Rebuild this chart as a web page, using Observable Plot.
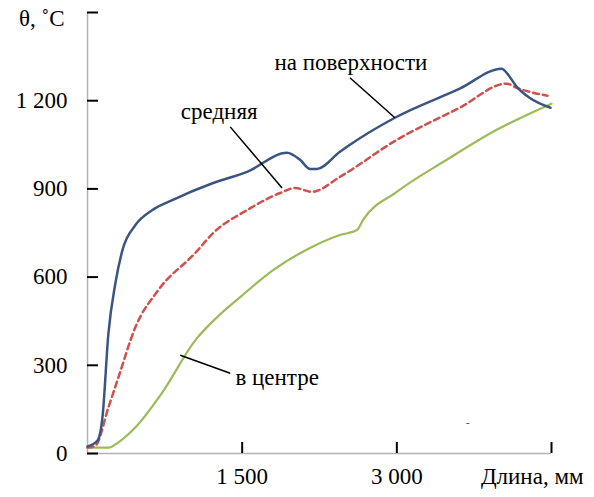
<!DOCTYPE html>
<html>
<head>
<meta charset="utf-8">
<script src="https://cdn.jsdelivr.net/npm/d3@7"></script>
<script src="https://cdn.jsdelivr.net/npm/@observablehq/plot@0.6"></script>
<style>
  html, body { margin: 0; padding: 0; background: #fff; }
  #chart svg { display: block; }
</style>
</head>
<body>
<div id="chart"></div>
<script>
// --- data (length, mm ; temperature, °C) ---
const surfaceX = [0, 97, 145, 203, 271, 339, 465, 629, 823, 1219, 1548, 1935, 2061, 2158, 2226, 2448, 2545, 2981, 3610, 4016, 4065, 4161, 4287, 4490];
const surfaceY = [24, 44, 123, 409, 580, 692, 777, 828, 862, 920, 958, 1023, 999, 968, 968, 1026, 1050, 1142, 1241, 1309, 1295, 1248, 1210, 1176];

const meanX = [0, 77, 203, 300, 465, 687, 1045, 1219, 1548, 1868, 2013, 2177, 2448, 3000, 3610, 4065, 4161, 4461];
const meanY = [20, 27, 157, 259, 430, 556, 682, 750, 828, 886, 903, 890, 941, 1067, 1176, 1258, 1244, 1217];

const centerX = [0, 203, 300, 465, 726, 1045, 1258, 1481, 1800, 2158, 2448, 2613, 2671, 3000, 3484, 3968, 4500];
const centerY = [20, 20, 38, 89, 208, 385, 464, 532, 624, 699, 743, 760, 794, 890, 999, 1101, 1190];

const yTicks = [0, 300, 600, 900, 1200, 1500];
const yTickLabels = ["0", "300", "600", "900", "1 200", ""];
const yTitle = "θ, ˚C";
const xTicks = [1500, 3000, 4500];
const xTickLabels = ["1 500", "3 000", ""];
const xTitle = "Длина, мм";

const annoText = ["на поверхности", "средняя", "в центре"];
const annoX = [2555, 1277, 1839];
const annoY = [1330, 1163, 259];
const leadX1 = [2545, 1384, 900];
const leadY1 = [1278, 1111, 334];
const leadX2 = [2981, 1887, 1384];
const leadY2 = [1142, 903, 273];

// small stray dash seen in the original figure
const strayText = ["-"];
const strayX = [3687];
const strayY = [102];

// --- build tables ---
const surface = surfaceX.map((x, i) => ({x, y: surfaceY[i]}));
const mean = meanX.map((x, i) => ({x, y: meanY[i]}));
const center = centerX.map((x, i) => ({x, y: centerY[i]}));
const yT = yTicks.map((v, i) => ({v, t: yTickLabels[i]}));
const xT = xTicks.map((v, i) => ({v, t: xTickLabels[i]}));
const anno = annoText.map((t, i) => ({t, x: annoX[i], y: annoY[i], x1: leadX1[i], y1: leadY1[i], x2: leadX2[i], y2: leadY2[i]}));
const stray = strayText.map((t, i) => ({t, x: strayX[i], y: strayY[i]}));

const font = "Liberation Serif, Times New Roman, serif";
const fs = 23;

const chart = Plot.plot({
  width: 594,
  height: 497,
  marginTop: 12,
  marginBottom: 44,
  marginLeft: 87,
  marginRight: 43,
  style: {fontFamily: font, fontSize: fs + "px", background: "#fff", color: "#000"},
  x: {domain: [0, 4500], axis: null},
  y: {domain: [0, 1500], axis: null},
  marks: [
    // axis lines
    Plot.ruleX([0], {stroke: "#b3b3b3", strokeWidth: 1.5}),
    Plot.ruleY([0], {stroke: "#b3b3b3", strokeWidth: 1.5}),
    // inward tick marks
    Plot.axisY(yTicks, {tickSize: 11, dx: 11, tickFormat: () => "", stroke: "#000", strokeWidth: 2}),
    Plot.axisX(xTicks, {tickSize: 11, dy: -11, tickFormat: () => "", stroke: "#000", strokeWidth: 2}),
    // tick labels
    Plot.text(yT, {frameAnchor: "left", y: "v", text: "t", textAnchor: "end", dx: -20, fontSize: fs, fill: "#000"}),
    Plot.text([yTitle], {frameAnchor: "left", y: () => 1500, text: d => d, textAnchor: "end", dx: -23, dy: 6, fontSize: fs, fill: "#000"}),
    Plot.text(xT, {frameAnchor: "bottom", x: "v", text: "t", dy: 30, fontSize: fs, fill: "#000"}),
    Plot.text([xTitle], {frameAnchor: "bottom", x: () => 4500, text: d => d, textAnchor: "end", dx: 32, dy: 30, fontSize: fs, fill: "#000"}),
    // series
    Plot.line(center, {x: "x", y: "y", stroke: "#9bbb59", strokeWidth: 2.2, curve: "monotone-x"}),
    Plot.line(mean, {x: "x", y: "y", stroke: "#d0504d", strokeWidth: 2.5, strokeDasharray: "6,4", curve: "monotone-x"}),
    Plot.line(surface, {x: "x", y: "y", stroke: "#3a5680", strokeWidth: 2.5, curve: "monotone-x"}),
    // annotations
    Plot.link(anno, {x1: "x1", y1: "y1", x2: "x2", y2: "y2", stroke: "#000", strokeWidth: 1.5}),
    Plot.text(anno, {x: "x", y: "y", text: "t", fontSize: fs, fill: "#000"}),
    Plot.text(stray, {x: "x", y: "y", text: "t", fontSize: 12, fill: "#555"})
  ]
});
document.getElementById("chart").appendChild(chart);
</script>
</body>
</html>
